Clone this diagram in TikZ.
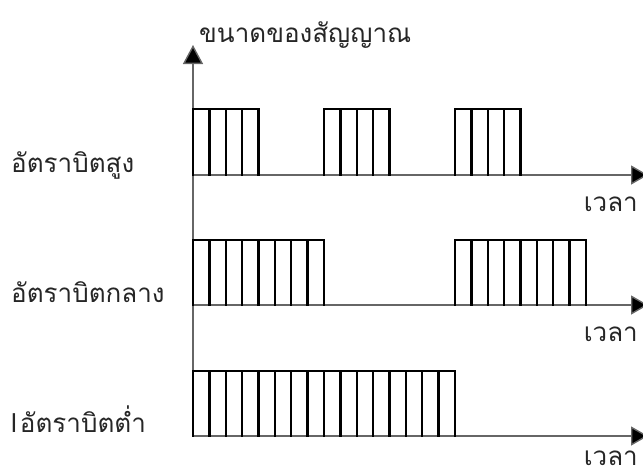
\documentclass[tikz,border=0pt]{standalone}
\usepackage{fontspec}
\newfontfamily\thaifont[Script=Thai]{Loma}
\newfontfamily\latinfont{Liberation Sans}
\usetikzlibrary{arrows.meta}
\begin{document}
\begin{tikzpicture}[x=1pt,y=-1pt,
  axisline/.style={draw=black!60, line width=1.4pt},
  axisarrow/.style={axisline, -{Triangle[length=17pt,width=19pt,fill=black]}},
  pulseline/.style={draw=black, line width=2.3pt, line cap=rect},
  lbl/.style={font=\thaifont\fontsize{26}{30}\selectfont, inner sep=0pt, text=black!85}]
\useasboundingbox (0,0) rectangle (643,474);
% vertical axis
\coordinate (o) at (193,436);
\coordinate (top) at (193,45);
\draw[axisline, -{Triangle[length=19pt,width=20pt,fill=black]}] (o) -- (top);
\node[lbl, anchor=base west] (ylab) at (199,42) {ขนาดของสัญญาณ};
% baselines
\def\sw{16.375}
\foreach \b/\nm in {175/a,305/b,436/c}{
  \coordinate (s\nm) at (193,\b);
  \coordinate (e\nm) at (648,\b);
  \draw[axisarrow] (s\nm) -- (e\nm);
}
% row labels
\node[lbl, anchor=base west] (r1) at (11,172) {อัตราบิตสูง};
\node[lbl, anchor=base west] (r2) at (11,302) {อัตราบิตกลาง};
\node[lbl, anchor=base west] (r3) at (11,432) {{\latinfont l}\kern3pt อัตราบิตต่ำ};
\node[lbl, anchor=base east] (t1) at (638,211) {เวลา};
\node[lbl, anchor=base east] (t2) at (638,341) {เวลา};
\node[lbl, anchor=base east] (t3) at (638,465) {เวลา};
% pulses: start slot, number of slots, top, base
\foreach \s/\n/\t/\b in {0/4/109/175, 8/4/109/175, 16/4/109/175,
                         0/8/240/305, 16/8/240/305,
                         0/16/371/436}{
  \pgfmathsetmacro{\xa}{193+\s*\sw}
  \pgfmathsetmacro{\xb}{193+(\s+\n)*\sw}
  \draw[pulseline] (\xa,\t) -- (\xb,\t);
  \foreach \k in {0,...,\n}{
    \pgfmathsetmacro{\xx}{193+(\s+\k)*\sw}
    \draw[pulseline] (\xx,\b) -- (\xx,\t);
  }
}
\end{tikzpicture}
\end{document}
